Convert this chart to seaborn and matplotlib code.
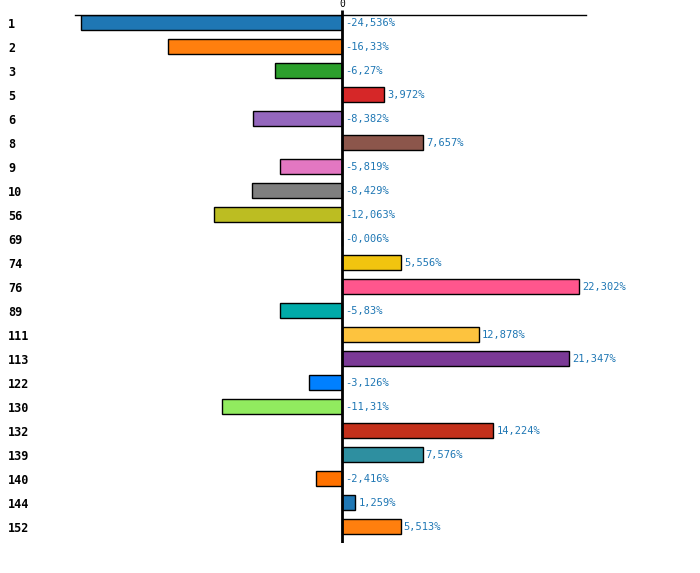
import matplotlib
matplotlib.use("Agg")
import matplotlib.pyplot as plt
import seaborn as sns
import pandas as pd

categories = ["1", "2", "3", "5", "6", "8", "9", "10", "56", "69", "74", "76",
              "89", "111", "113", "122", "130", "132", "139", "140", "144", "152"]
values = [-24.536, -16.33, -6.27, 3.972, -8.382, 7.657, -5.819, -8.429, -12.063,
          -0.006, 5.556, 22.302, -5.83, 12.878, 21.347, -3.126, -11.31, 14.224,
          7.576, -2.416, 1.259, 5.513]
labels = ["-24,536%", "-16,33%", "-6,27%", "3,972%", "-8,382%", "7,657%", "-5,819%",
          "-8,429%", "-12,063%", "-0,006%", "5,556%", "22,302%", "-5,83%", "12,878%",
          "21,347%", "-3,126%", "-11,31%", "14,224%", "7,576%", "-2,416%", "1,259%",
          "5,513%"]
colors = ["#1f77b4", "#ff7f0e", "#2ca02c", "#d62728", "#9467bd", "#8c564b", "#e377c2",
          "#7f7f7f", "#bcbd22", "#17becf", "#f1c40f", "#ff568d", "#00aba9", "#fdc33e",
          "#7b3a96", "#0080ff", "#91eb5f", "#c3301b", "#2e8fa0", "#ff7200", "#1f77b4",
          "#ff7f0e"]

df = pd.DataFrame({"cat": categories, "val": values})

sns.set_style("white")
fig = plt.figure(figsize=(7.0, 5.73), dpi=100)
ax = fig.add_axes([75 / 700, 30 / 573, 511 / 700, 528 / 573])

sns.barplot(data=df, y="cat", x="val", hue="cat", palette=colors, order=categories,
            hue_order=categories, orient="h", width=0.625, edgecolor="black",
            linewidth=1.0, saturation=1, legend=False, ax=ax)

ax.set_xlim(-25.1, 22.94)
ax.set_ylim(21.67, -0.33)
ax.set_xlabel("")
ax.set_ylabel("")

for s in ["left", "right", "bottom"]:
    ax.spines[s].set_visible(False)
ax.spines["top"].set_linewidth(1.0)
ax.spines["top"].set_color("black")

ax.axvline(0, color="black", lw=2, zorder=5)

ax.xaxis.tick_top()
ax.set_xticks([0])
ax.set_xticklabels(["0"], family="DejaVu Sans Mono", fontsize=7, color="black")
ax.tick_params(axis="x", length=3.6, width=2, pad=0.5, colors="black")

ax.set_yticks(range(len(categories)))
ax.set_yticklabels(categories, family="DejaVu Sans Mono", fontweight="bold",
                   fontsize=8.5, ha="left", color="black")
ax.tick_params(axis="y", length=0, pad=48, labelcolor="black")

for i, (v, lab) in enumerate(zip(values, labels)):
    x0 = max(v, 0)
    ax.annotate(lab, xy=(x0, i), xytext=(2.2, 0), textcoords="offset points",
                ha="left", va="center", fontsize=7.5, family="DejaVu Sans Mono",
                color="#1f77b4")

fig.savefig("out.png", dpi=100)
